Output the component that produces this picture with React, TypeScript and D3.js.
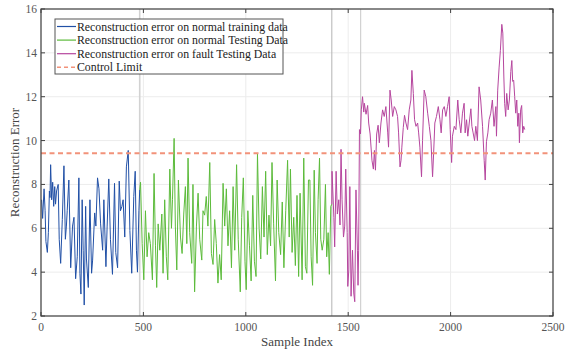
import React from "react";
import * as d3 from "d3";

const trainIdx = [3,8,15,20,24,31,36,41,44,47,52,57,62,67,71,76,84,89,96,104,112,119,124,128,136,145,154,161,169,177,185,190,195,201,206,211,218,222,231,239,247,252,262,268,276,283,291,301,307,317,323,331,339,349,359,365,374,382,388,395,401,409,417,426,434,443,453,460,466,471,478,482];
const trainVal = [7.3,6.45,7.8,6.8,5.4,4.9,5.8,7.7,7.4,8.9,7.3,8.1,7.0,7.9,7.1,7.7,8.0,5.5,4.4,6.4,8.85,5.5,6.1,6.8,8.2,4.2,6.1,6.5,3.7,4.7,8.3,3.95,3.0,7.3,5.0,2.5,7.0,4.6,3.3,7.3,3.95,4.55,6.7,6.1,8.3,7.8,6.2,5.0,7.3,4.25,6.1,8.25,5.5,3.9,8.05,4.9,4.2,8.15,6.8,7.0,7.3,5.6,8.8,9.55,5.9,3.95,7.45,8.6,5.0,4.0,6.8,7.75];

const testIdx = [482,486,494,502,510,518,526,534,544,552,559,565,572,580,590,596,604,612,619,629,637,642,650,656,663,671,681,689,697,705,712,718,726,736,742,750,759,767,775,785,791,799,807,815,824,832,840,848,856,864,872,880,889,897,905,913,921,930,938,946,955,963,973,980,988,996,1002,1010,1018,1026,1034,1042,1050,1057,1065,1073,1081,1089,1097,1105,1113,1121,1128,1136,1145,1153,1161,1170,1178,1186,1195,1204,1212,1218,1226,1234,1242,1250,1258,1265,1275,1283,1291,1298,1306,1313,1319,1326,1334,1340,1348,1353,1360,1366,1373,1381,1389,1395,1402,1408,1415,1420];
const testVal = [7.75,8.1,5.3,3.65,6.8,4.7,5.8,5.3,3.65,8.5,5.2,3.3,6.2,5.0,6.65,3.95,7.3,4.7,3.65,8.7,6.0,7.3,10.1,6.1,4.1,8.2,5.6,4.85,6.65,7.9,5.3,9.2,5.8,4.4,8.0,3.1,6.1,7.6,5.5,4.55,6.8,6.6,7.45,6.1,9.0,4.85,4.35,6.4,5.3,3.5,4.8,3.65,8.05,6.1,7.8,5.2,6.8,4.2,7.9,5.0,8.9,5.5,3.1,6.5,8.3,4.5,3.2,6.8,5.2,3.6,7.5,4.5,3.8,9.4,6.0,4.6,7.9,5.6,8.6,4.8,6.6,5.2,9.0,6.2,3.6,8.2,5.8,4.8,7.2,4.2,6.8,9.1,5.6,8.7,4.9,6.5,4.3,7.5,3.8,7.6,3.65,9.2,4.25,3.95,8.2,8.2,4.7,3.4,8.65,5.8,4.4,7.3,9.2,5.5,5.0,5.5,8.0,4.7,5.8,3.9,7.0,7.1];

const faultIdx = [1420,1421,1430,1434,1441,1447,1454,1460,1465,1470,1477,1483,1488,1495,1498,1503,1508,1514,1521,1527,1532,1538,1545,1548,1551,1555,1560,1564,1570,1576,1579,1587,1595,1600,1607,1616,1623,1628,1633,1639,1646,1652,1660,1668,1676,1684,1693,1697,1704,1710,1717,1725,1733,1741,1746,1753,1758,1762,1769,1775,1782,1790,1798,1806,1811,1818,1824,1831,1839,1844,1850,1858,1863,1871,1879,1888,1896,1904,1912,1917,1923,1931,1940,1948,1954,1961,1969,1977,1985,1993,1998,2005,2009,2018,2026,2035,2042,2050,2058,2066,2071,2078,2084,2091,2099,2104,2110,2117,2123,2131,2139,2147,2156,2164,2169,2175,2182,2188,2196,2204,2212,2221,2224,2230,2237,2243,2250,2255,2260,2264,2269,2274,2281,2287,2294,2299,2303,2308,2313,2318,2323,2328,2333,2336,2342,2347,2352,2357,2362];
const faultVal = [7.1,8.6,6.5,5.15,8.6,6.65,7.3,6.15,9.6,7.3,5.6,6.1,8.7,5.8,3.35,4.1,7.9,2.9,5.0,3.05,2.65,7.75,5.0,3.4,5.0,10.5,10.3,11.4,12.0,11.3,11.7,11.2,11.6,10.8,10.3,9.1,8.7,9.55,8.65,10.3,10.7,9.9,10.8,11.4,11.1,11.55,10.35,9.7,12.3,11.85,11.1,11.55,11.4,11.1,10.35,8.8,9.1,9.7,10.6,11.15,10.8,10.5,11.4,11.85,13.2,12.15,10.95,10.65,10.8,10.35,9.7,8.35,10.0,12.3,12.0,11.25,10.65,10.0,8.35,9.4,10.8,11.1,11.55,10.95,10.35,11.4,11.55,11.1,11.55,12.0,10.5,9.0,10.2,10.65,10.5,11.85,10.95,10.35,11.25,11.7,10.35,10.95,10.2,10.8,11.45,10.65,10.35,10.0,10.65,10.0,12.45,11.85,10.65,9.1,8.2,9.95,10.35,10.95,11.25,11.85,10.65,11.55,10.2,12.3,13.35,14.1,15.3,14.9,12.9,11.7,11.1,12.15,11.4,11.85,13.15,13.65,12.7,12.75,12.0,11.25,11.85,10.65,11.25,9.9,11.4,11.6,10.35,10.65,10.5];

const controlLimit = 9.42;
const boundaries = [482, 1420, 1561];
const xTicks = [0, 500, 1000, 1500, 2000, 2500];
const yTicks = [2, 4, 6, 8, 10, 12, 14, 16];
const legendLabels = [
  "Reconstruction error on normal training data",
  "Reconstruction error on normal Testing Data",
  "Reconstruction error on fault Testing Data",
  "Control Limit",
];

const W = 571, H = 351;
const L = 41, R = 553, T = 9, B = 316;
const FONT = "'Liberation Serif', 'Times New Roman', serif";
const COLORS = ["#2150a6", "#5cbb3b", "#b6469e", "#f2927a"];

export default function App() {
  const x = d3.scaleLinear().domain([0, 2500]).range([L, R]);
  const y = d3.scaleLinear().domain([2, 16]).range([B, T]);
  const line = d3.line<[number, number]>().x((d) => x(d[0])).y((d) => y(d[1]));
  const zip = (a: number[], b: number[]) => a.map((v, i) => [v, b[i]] as [number, number]);
  const series = [zip(trainIdx, trainVal), zip(testIdx, testVal), zip(faultIdx, faultVal)];
  const bColors = ["#d2d2d2", "#b4b4b4", "#c8c8c8"];
  const bWidths = [1.6, 1, 1];
  return (
    <svg width={W} height={H} style={{ position: "absolute", left: 0, top: 0, background: "#fff" }} fontFamily={FONT}>
      <rect x={0} y={0} width={W} height={H} fill="#fff" />
      {/* grid */}
      {xTicks.map((t) => (
        <line key={"gx" + t} x1={x(t)} x2={x(t)} y1={T} y2={B} stroke="#ececec" strokeWidth={1} />
      ))}
      {yTicks.map((t) => (
        <line key={"gy" + t} x1={L} x2={R} y1={y(t)} y2={y(t)} stroke="#ececec" strokeWidth={1} />
      ))}
      {boundaries.map((b, i) => (
        <line key={"b" + b} x1={x(b)} x2={x(b)} y1={T} y2={B} stroke={bColors[i]} strokeWidth={bWidths[i]} />
      ))}
      {series.map((s, i) => (
        <path key={"s" + i} d={line(s) || ""} fill="none" stroke={COLORS[i]} strokeWidth={1} strokeLinejoin="round" />
      ))}
      <line x1={L} x2={R} y1={y(controlLimit)} y2={y(controlLimit)} stroke={COLORS[3]} strokeWidth={2} strokeDasharray="5,3.5" />
      {/* axes box */}
      <rect x={L} y={T} width={R - L} height={B - T} fill="none" stroke="#404040" strokeWidth={1.2} />
      {xTicks.map((t) => (
        <g key={"tx" + t}>
          <line x1={x(t)} x2={x(t)} y1={B} y2={B - 4} stroke="#404040" />
          <line x1={x(t)} x2={x(t)} y1={T} y2={T + 4} stroke="#404040" />
          <text x={x(t)} y={B + 15} textAnchor="middle" fontSize={11.5} fill="#555">{t}</text>
        </g>
      ))}
      {yTicks.map((t) => (
        <g key={"ty" + t}>
          <line x1={L} x2={L + 4} y1={y(t)} y2={y(t)} stroke="#404040" />
          <line x1={R} x2={R - 4} y1={y(t)} y2={y(t)} stroke="#404040" />
          <text x={L - 4} y={y(t) + 4} textAnchor="end" fontSize={11.5} fill="#555">{t}</text>
        </g>
      ))}
      <text x={(L + R) / 2} y={346} textAnchor="middle" fontSize={13} fill="#444">Sample Index</text>
      <text transform={`translate(19,${(T + B) / 2}) rotate(-90)`} textAnchor="middle" fontSize={13} fill="#444">Reconstruction Error</text>
      {/* legend */}
      <rect x={55} y={19} width={228} height={55} fill="#fff" stroke="#555" strokeWidth={1} />
      {legendLabels.map((lab, i) => (
        <g key={"lg" + i}>
          <line x1={57} x2={76} y1={26.5 + i * 13.6} y2={26.5 + i * 13.6} stroke={COLORS[i]} strokeWidth={i === 3 ? 1.5 : 1.2} strokeDasharray={i === 3 ? "4,3" : undefined} />
          <text x={77} y={30.5 + i * 13.6} fontSize={11.8} fill="#222">{lab}</text>
        </g>
      ))}
    </svg>
  );
}
